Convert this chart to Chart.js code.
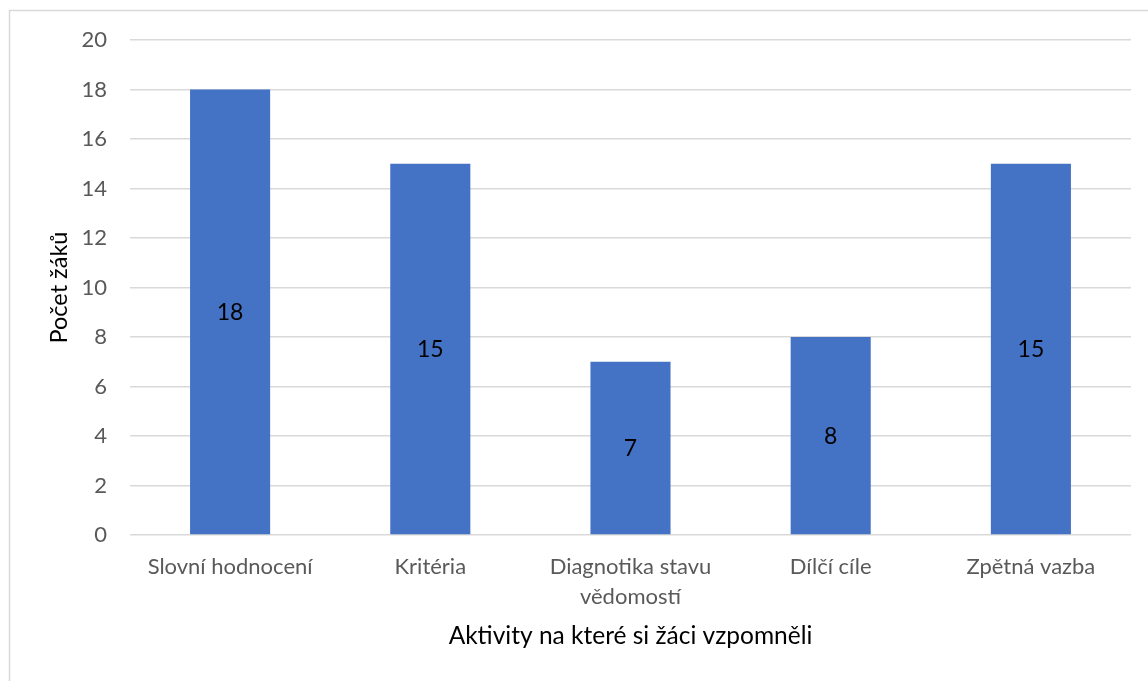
<!DOCTYPE html>
<html>
<head>
<meta charset="utf-8">
<script src="https://cdn.jsdelivr.net/npm/chart.js@4/dist/chart.umd.min.js"></script>
<style>
  html, body { margin: 0; padding: 0; background: #ffffff; }
  #wrap { width: 1148px; height: 681px; position: relative; }
</style>
</head>
<body>
<div id="wrap"><canvas id="c" width="1148" height="681"></canvas></div>
<script>
// Activities the pupils remembered, and how many pupils named each one
const categories = [
  'Slovní hodnocení',
  'Kritéria',
  ['Diagnotika stavu', 'vědomostí'],
  'Dílčí cíle',
  'Zpětná vazba'
];
const pupilCounts = [18, 15, 7, 8, 15];
const yTicks = [0, 2, 4, 6, 8, 10, 12, 14, 16, 18, 20];

const FONT = 'Lato, "Open Sans", sans-serif';

// Light frame around the whole chart
const framePlugin = {
  id: 'frame',
  beforeDraw(chart) {
    const ctx = chart.ctx;
    ctx.save();
    ctx.fillStyle = '#ffffff';
    ctx.fillRect(0, 0, chart.width, chart.height);
    ctx.strokeStyle = '#d9d9d9';
    ctx.lineWidth = 1.5;
    ctx.strokeRect(9.5, 10.5, chart.width + 20, chart.height + 20);
    ctx.restore();
  }
};

// Value written in the middle of each bar
const barValuePlugin = {
  id: 'barValues',
  afterDatasetsDraw(chart) {
    const ctx = chart.ctx;
    const meta = chart.getDatasetMeta(0);
    const values = chart.data.datasets[0].data;
    ctx.save();
    ctx.font = '23px ' + FONT;
    ctx.fillStyle = '#000000';
    ctx.textAlign = 'center';
    ctx.textBaseline = 'middle';
    meta.data.forEach((bar, i) => {
      ctx.fillText(String(values[i]), bar.x, (bar.y + bar.base) / 2 + 1);
    });
    ctx.restore();
  }
};

new Chart(document.getElementById('c'), {
  type: 'bar',
  data: {
    labels: categories,
    datasets: [{
      data: pupilCounts,
      backgroundColor: '#4472C4',
      borderWidth: 0,
      barPercentage: 0.4,
      categoryPercentage: 1.0
    }]
  },
  options: {
    responsive: false,
    animation: false,
    devicePixelRatio: 1,
    layout: { padding: { left: 0, top: 40, right: 17, bottom: 0 } },
    plugins: {
      legend: { display: false },
      tooltip: { enabled: false }
    },
    scales: {
      x: {
        offset: true,
        grid: { display: false, drawTicks: false },
        border: { display: false },
        ticks: {
          color: '#595959',
          font: { family: FONT, size: 22, lineHeight: '30px' },
          padding: 17,
          maxRotation: 0,
          autoSkip: false
        },
        title: {
          display: true,
          text: 'Aktivity na které si žáci vzpomněli',
          color: '#000000',
          font: { family: FONT, size: 24.5 },
          padding: { top: 0, bottom: 30 }
        },
        afterFit(scale) { scale.height = 146; }
      },
      y: {
        min: 0,
        max: 20,
        afterBuildTicks(scale) { scale.ticks = yTicks.map(v => ({ value: v })); },
        grid: { color: '#d9d9d9', lineWidth: 1.5, drawTicks: false },
        border: { display: false },
        ticks: {
          color: '#595959',
          font: { family: FONT, size: 22 },
          padding: 23
        },
        title: {
          display: true,
          text: 'Počet žáků',
          color: '#000000',
          font: { family: FONT, size: 23.5 },
          padding: { top: 45, bottom: 0 }
        },
        afterFit(scale) { scale.width = 130; }
      }
    }
  },
  plugins: [framePlugin, barValuePlugin]
});
</script>
</body>
</html>
